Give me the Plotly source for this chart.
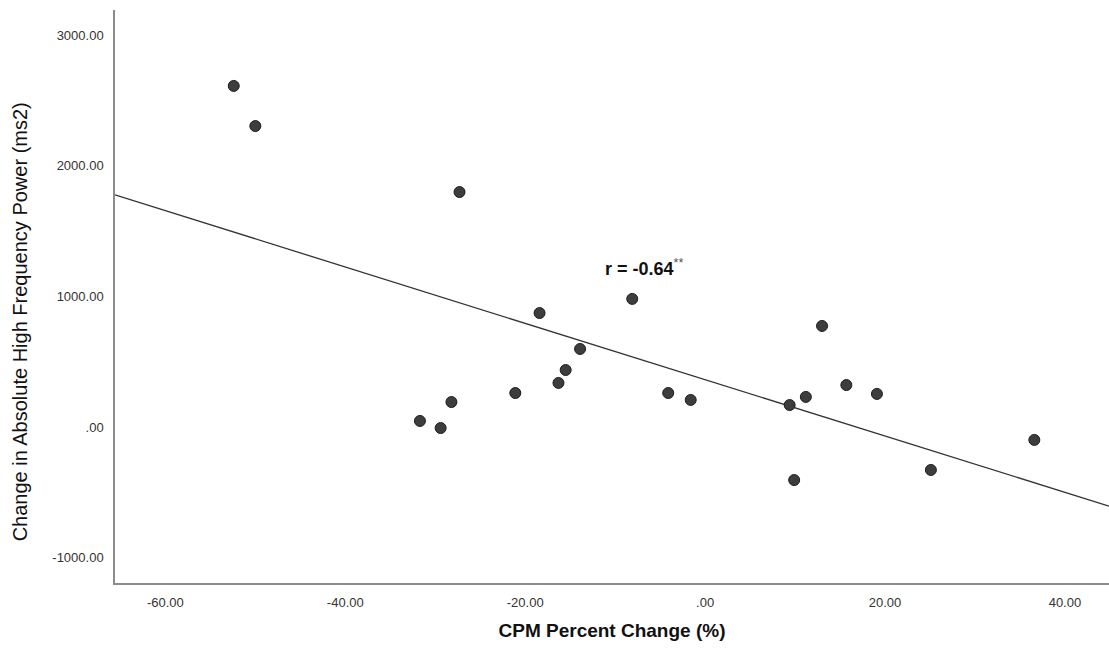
import numpy as np
import plotly.graph_objects as go

# Data
cpm_pct_change = [-52.4, -50.0, -27.3, -31.7, -29.4, -28.2, -21.1, -18.4, -16.3, -15.5, -13.9,
                  -8.1, -4.1, -1.6, 9.4, 9.9, 11.2, 13.0, 15.7, 19.1, 25.1, 36.6]
hf_power_change = [2610, 2303, 1798, 46, -8, 191, 260, 872, 337, 436, 597,
                   980, 260, 207, 168, -406, 230, 773, 321, 253, -329, -99]

x_tickvals = [-60, -40, -20, 0, 20, 40]
x_ticktext = ["-60.00", "-40.00", "-20.00", ".00", "20.00", "40.00"]
y_tickvals = [-1000, 0, 1000, 2000, 3000]
y_ticktext = ["-1000.00", ".00", "1000.00", "2000.00", "3000.00"]

x_range = [-65.6, 44.9]
y_range = [-1194, 3191]

# Least-squares fit line computed from the data
slope, intercept = np.polyfit(cpm_pct_change, hf_power_change, 1)
fit_x = np.array(x_range)
fit_y = intercept + slope * fit_x

fig = go.Figure()
fig.add_trace(go.Scatter(
    x=fit_x, y=fit_y, mode="lines",
    line=dict(color="#333333", width=1.3),
    hoverinfo="skip", showlegend=False,
))
fig.add_trace(go.Scatter(
    x=cpm_pct_change, y=hf_power_change, mode="markers",
    marker=dict(size=11, color="#3d3d3d", line=dict(color="#1e1e1e", width=1)),
    showlegend=False,
))

fig.add_annotation(
    x=-11.3, y=1217, xanchor="left", yanchor="middle", showarrow=False,
    text="<b>r = -0.64</b><sup><span style='color:#555555'>**</span></sup>",
    font=dict(family="Liberation Sans, Arial, sans-serif", size=18, color="#111111"),
)

# Y axis title (placed as annotation to match its vertical offset)
fig.add_annotation(
    xref="paper", yref="paper", x=-0.0955, y=0.455,
    xanchor="center", yanchor="middle", showarrow=False, textangle=-90,
    text="Change in Absolute High Frequency Power (ms2)",
    font=dict(family="Liberation Sans, Arial, sans-serif", size=20, color="#111111"),
)

fig.update_layout(
    width=1109, height=655,
    margin=dict(l=115, r=0, t=10, b=72),
    plot_bgcolor="white", paper_bgcolor="white",
    font=dict(family="Liberation Sans, Arial, sans-serif", color="#222222"),
)
fig.update_xaxes(
    range=x_range, tickvals=x_tickvals, ticktext=x_ticktext,
    showgrid=False, zeroline=False, showline=True, linecolor="#8c8c8c", linewidth=1.5,
    ticks="", ticklabelstandoff=7,
    tickfont=dict(size=13, color="#333333"),
    title=dict(text="<b>CPM Percent Change (%)</b>", font=dict(size=19, color="#111111"), standoff=14),
)
fig.update_yaxes(
    range=y_range, tickvals=y_tickvals, ticktext=y_ticktext,
    showgrid=False, zeroline=False, showline=True, linecolor="#8c8c8c", linewidth=1.5,
    ticks="", ticklabelstandoff=7,
    tickfont=dict(size=13, color="#333333"),
)

fig.write_html("out.html")
